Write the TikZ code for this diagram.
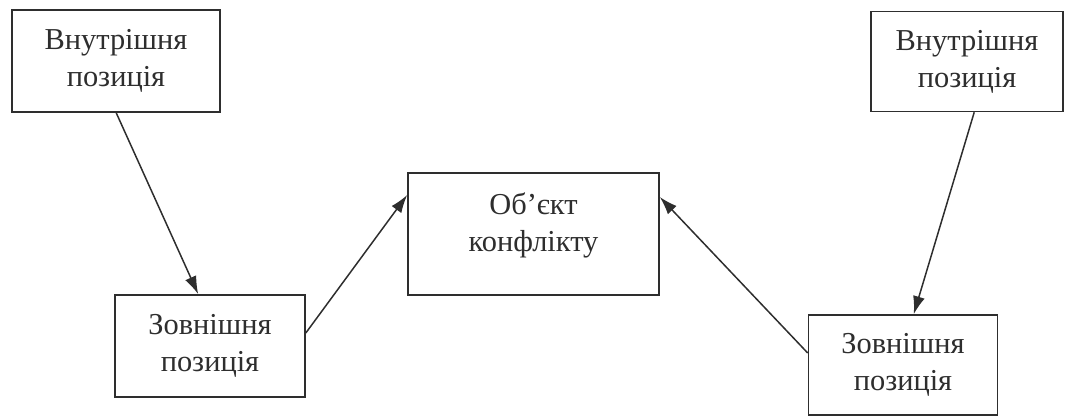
\documentclass[tikz,border=0pt]{standalone}
\usepackage{fontspec}
\setmainfont{Liberation Serif}
\usetikzlibrary{arrows.meta,calc}
\definecolor{ink}{gray}{0.18}
\begin{document}
\begin{tikzpicture}[x=0.5pt,y=-0.5pt,
  box/.style={draw=ink,line width=0.8pt,rectangle,inner sep=0pt,
    text=ink,align=center,
    font=\fontsize{15.2pt}{18.5pt}\selectfont},
  conn/.style={draw=ink,line width=0.75pt,
    -{Latex[length=9pt,width=6pt]}}]
  \useasboundingbox (0,0) rectangle (1068,416);

  % inner positions (top), outer positions (bottom), object (middle)
  \node[box,minimum width=104pt,minimum height=51pt] (inL) at (116,61)
    {Внутрішня\\позиція};
  \node[box,minimum width=96pt,minimum height=50pt] (inR) at (967,61.5)
    {Внутрішня\\позиція};
  \node[box,minimum width=95pt,minimum height=51pt] (outL) at (210,346)
    {Зовнішня\\позиція};
  \node[box,minimum width=94.5pt,minimum height=50pt] (outR) at (903,365)
    {Зовнішня\\позиція};
  \node[box,minimum width=125.5pt,minimum height=61pt] (obj) at (533.5,234) {};
  \node[text=ink,align=center,anchor=north,
    font=\fontsize{15.2pt}{18.5pt}\selectfont] (objtext) at ($(obj.north)+(0,13)$)
    {Об’єкт\\конфлікту};

  % connectors
  \draw[conn] ($(inL.south west)+(105,0)$) -- ($(outL.north west)+(84,0)$);
  \draw[conn] ($(outL.east)+(0,-13)$) -- ($(obj.west)+(0,-39)$);
  \draw[conn] ($(inR.south west)+(104,0)$) -- ($(outR.north west)+(106,0)$);
  \draw[conn] ($(outR.west)+(0,-12)$) -- ($(obj.east)+(0,-37)$);
\end{tikzpicture}
\end{document}
